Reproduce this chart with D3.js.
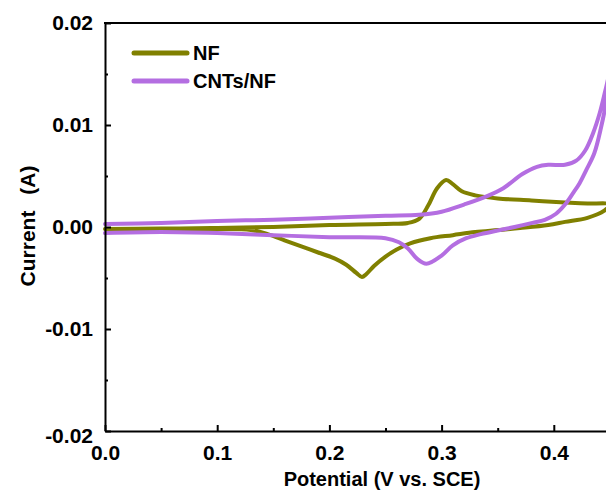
<!DOCTYPE html>
<html>
<head>
<meta charset="utf-8">
<script src="https://cdn.jsdelivr.net/npm/d3@7"></script>
<style>
  body { margin: 0; background: #fff; }
  text { font-family: "Liberation Sans", Arial, sans-serif; font-weight: bold; fill: #000; }
</style>
</head>
<body>
<div id="chart"></div>
<script>
// CV loops: forward scan 0 -> 0.45 V, then reverse back to 0
const nfPotential = [0.000, 0.050, 0.100, 0.150, 0.200, 0.250, 0.270, 0.280, 0.288, 0.296, 0.304, 0.310, 0.318, 0.330, 0.350, 0.380, 0.410, 0.430, 0.450,
  0.445, 0.430, 0.410, 0.395, 0.370, 0.350, 0.330, 0.310, 0.290, 0.272, 0.260, 0.250, 0.240, 0.233, 0.229, 0.224, 0.215, 0.205, 0.190, 0.175, 0.160, 0.145, 0.130, 0.100, 0.050, 0.000];
const nfCurrent = [-0.0002, -0.00015, -0.0001, 0.0000, 0.0002, 0.0003, 0.0004, 0.0008, 0.0021, 0.0038, 0.0046, 0.0042, 0.0035, 0.0031, 0.0028, 0.0026, 0.0024, 0.0023, 0.0022,
  0.0016, 0.0009, 0.0005, 0.0002, -0.0001, -0.0003, -0.0005, -0.0008, -0.0011, -0.0016, -0.0022, -0.0029, -0.0038, -0.0046, -0.0049, -0.0045, -0.0037, -0.0031, -0.0025, -0.0019, -0.0013, -0.0007, -0.0003, -0.0002, -0.0002, -0.0002];

const cntPotential = [0.000, 0.050, 0.100, 0.150, 0.200, 0.250, 0.280, 0.300, 0.320, 0.340, 0.355, 0.372, 0.385, 0.395, 0.410, 0.420, 0.428, 0.435, 0.441, 0.446, 0.450,
  0.447, 0.442, 0.436, 0.429, 0.423, 0.417, 0.410, 0.402, 0.392, 0.381, 0.365, 0.352, 0.335, 0.322, 0.310, 0.300, 0.2865, 0.278, 0.270, 0.262, 0.250, 0.200, 0.150, 0.100, 0.050, 0.000];
const cntCurrent = [0.0003, 0.0004, 0.0006, 0.0007, 0.0009, 0.0011, 0.0012, 0.0015, 0.0022, 0.0030, 0.0038, 0.0052, 0.0059, 0.0061, 0.0061, 0.0065, 0.0075, 0.0092, 0.0112, 0.0134, 0.0152,
  0.0125, 0.0097, 0.0072, 0.0056, 0.0043, 0.0033, 0.0022, 0.0013, 0.0007, 0.0004, 0.0000, -0.0003, -0.0007, -0.0011, -0.0018, -0.0028, -0.0036, -0.0031, -0.0021, -0.0015, -0.0011, -0.0010, -0.0008, -0.0006, -0.0005, -0.0006];

const seriesNames = ["NF", "CNTs/NF"];
const seriesColors = ["#808000", "#b46ee1"];

const xTicks = [0.0, 0.1, 0.2, 0.3, 0.4];
const xMinor = [0.05, 0.15, 0.25, 0.35, 0.45];
const yTicks = [-0.02, -0.01, 0.00, 0.01, 0.02];
const yMinor = [-0.015, -0.005, 0.005, 0.015];

const width = 606, height = 494;
const plotLeft = 105, plotTop = 23, plotBottom = 431, plotRight = 666;

const svg = d3.select("#chart").append("svg")
  .attr("width", width).attr("height", height);

const x = d3.scaleLinear().domain([0, 0.5]).range([plotLeft, plotRight]);
const y = d3.scaleLinear().domain([-0.02, 0.02]).range([plotBottom, plotTop]);

// curves
const line = d3.line()
  .curve(d3.curveCatmullRom.alpha(0.5))
  .x(d => x(d[0]))
  .y(d => y(d[1]));

const nfData = d3.zip(nfPotential, nfCurrent);
const cntData = d3.zip(cntPotential, cntCurrent);

[nfData, cntData].forEach(function (data, k) {
  svg.append("path")
    .attr("d", line(data))
    .attr("fill", "none")
    .attr("stroke", seriesColors[k])
    .attr("stroke-width", 4)
    .attr("stroke-linejoin", "round")
    .attr("stroke-linecap", "round");
});

// axes, ticks inside
function styleAxis(g) {
  g.attr("font-family", null).attr("font-size", null);
  g.select(".domain").attr("stroke-width", 2);
  g.selectAll(".tick line").attr("stroke-width", 2);
  g.selectAll(".tick text").style("font-size", "21px");
}

svg.append("g")
  .attr("transform", `translate(0,${plotBottom})`)
  .call(d3.axisBottom(x).tickValues(xTicks).tickFormat(d => d.toFixed(1))
    .tickSizeInner(-6).tickSizeOuter(0).tickPadding(14))
  .call(styleAxis);

svg.append("g")
  .attr("transform", `translate(0,${plotBottom})`)
  .call(d3.axisBottom(x).tickValues(xMinor).tickFormat("").tickSizeInner(-3).tickSizeOuter(0))
  .call(styleAxis)
  .select(".domain").remove();

const yAxis = svg.append("g")
  .attr("transform", `translate(${plotLeft},0)`)
  .call(d3.axisLeft(y).tickValues(yTicks).tickFormat(d => d.toFixed(2))
    .tickSizeInner(-6).tickSizeOuter(0).tickPadding(12))
  .call(styleAxis);
// Origin nudges the bottom label down so it clears the x labels
yAxis.selectAll(".tick text").filter(d => d === -0.02).attr("dy", "0.55em");

svg.append("g")
  .attr("transform", `translate(${plotLeft},0)`)
  .call(d3.axisLeft(y).tickValues(yMinor).tickFormat("").tickSizeInner(-3).tickSizeOuter(0))
  .call(styleAxis)
  .select(".domain").remove();

// top frame line
svg.append("line")
  .attr("x1", plotLeft - 1).attr("x2", plotRight)
  .attr("y1", plotTop).attr("y2", plotTop)
  .attr("stroke", "#000").attr("stroke-width", 2);

// titles
svg.append("text")
  .attr("x", 382).attr("y", 486)
  .attr("text-anchor", "middle")
  .style("font-size", "20px")
  .text("Potential (V vs. SCE)");

svg.append("text")
  .attr("transform", "translate(35,226) rotate(-90)")
  .attr("text-anchor", "middle")
  .style("font-size", "21px")
  .style("word-spacing", "10px")
  .text("Current (A)");

// legend
const legend = svg.append("g");
seriesNames.forEach(function (name, k) {
  const ly = 53 + k * 28;
  legend.append("line")
    .attr("x1", 134).attr("x2", 187)
    .attr("y1", ly).attr("y2", ly)
    .attr("stroke", seriesColors[k])
    .attr("stroke-width", 5)
    .attr("stroke-linecap", "round");
  legend.append("text")
    .attr("x", 193).attr("y", ly + 7)
    .style("font-size", "20px")
    .text(name);
});
</script>
</body>
</html>
